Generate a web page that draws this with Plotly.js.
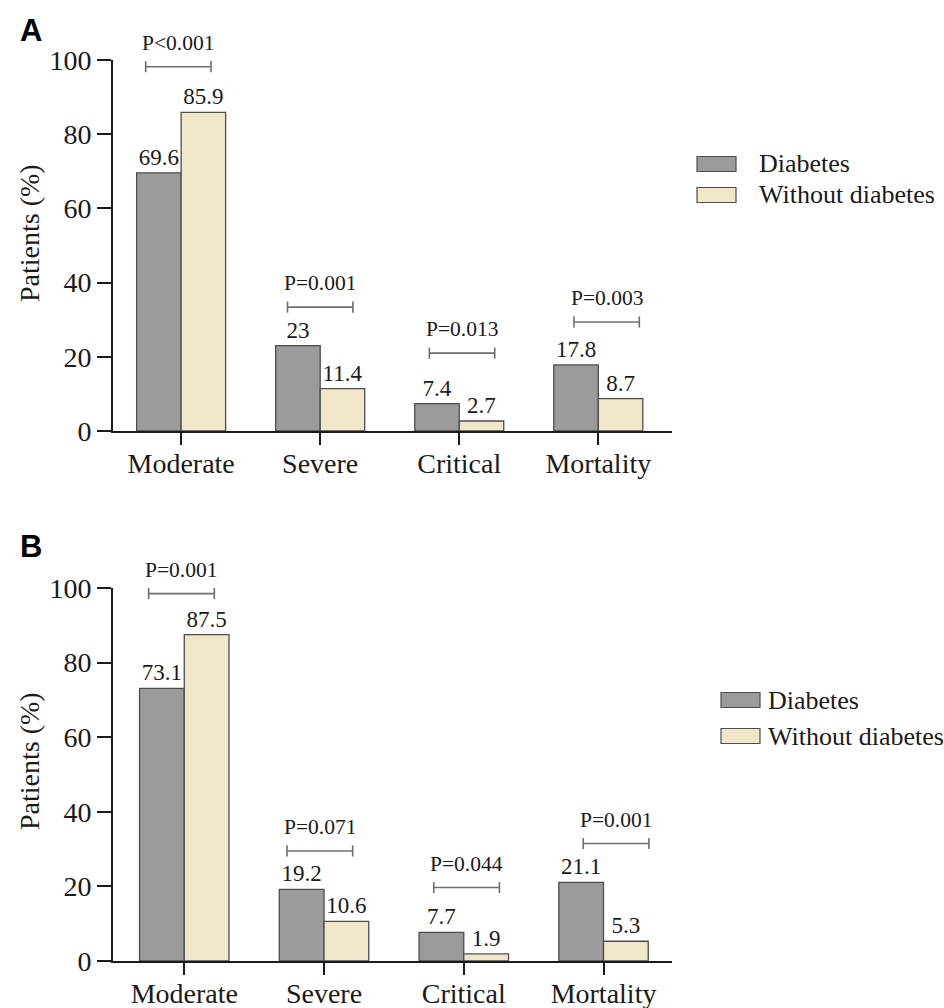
<!DOCTYPE html>
<html>
<head>
<meta charset="utf-8">
<script src="https://cdn.plot.ly/plotly-3.0.1.min.js"></script>
<style>
  html, body { margin: 0; padding: 0; background: #ffffff; }
  #chart { width: 944px; height: 1008px; }
</style>
</head>
<body>
<div id="chart"></div>
<script>
// ---------- data ----------
const categories = ['Moderate', 'Severe', 'Critical', 'Mortality'];
const seriesNames = ['Diabetes', 'Without diabetes'];
const diabetesA = [69.6, 23, 7.4, 17.8];
const withoutA  = [85.9, 11.4, 2.7, 8.7];
const diabetesB = [73.1, 19.2, 7.7, 21.1];
const withoutB  = [87.5, 10.6, 1.9, 5.3];
const pTextA = ['P<0.001', 'P=0.001', 'P=0.013', 'P=0.003'];
const pTextB = ['P=0.001', 'P=0.071', 'P=0.044', 'P=0.001'];
const bracketYA = [98.2, 33.4, 21.0, 29.4];
const bracketYB = [98.5, 29.5, 19.7, 31.5];
const bracketShiftA = [-0.02, 0.0, 0.02, 0.06];
const bracketShiftB = [-0.02, -0.03, 0.02, 0.09];
const yTicks = [0, 20, 40, 60, 80, 100];
const panelLetters = ['A', 'B'];
const yTitle = 'Patients (%)';

// ---------- style ----------
const W = 944, H = 1008;
const serif = 'Liberation Serif, Times New Roman, serif';
const grayFill = '#9a9b9a', tanFill = '#f0e7c8';
const barLine = '#4d4d4d';
const bracketColor = '#6e6e6e';
const txt = '#1a1a1a';
const px = x => x / W;
const py = y => 1 - y / H;
const catIdx = categories.map((_, i) => i);

function barTrace(vals, name, fill, xa, ya, group) {
  return {
    type: 'bar', x: catIdx, y: vals, name: name, xaxis: xa, yaxis: ya,
    offsetgroup: group, showlegend: false,
    marker: { color: fill, line: { color: barLine, width: 1.3 } },
    text: vals.map(v => String(v)), textposition: 'outside', cliponaxis: false,
    constraintext: 'none',
    textfont: { family: serif, size: 23, color: txt },
    hoverinfo: 'skip'
  };
}

function bracketTrace(ys, shifts, xa, ya) {
  const xs = [], yv = [];
  ys.forEach((y, i) => {
    const c = i + shifts[i];
    xs.push(c - 0.235, c + 0.235, null);
    yv.push(y, y, null);
  });
  return {
    type: 'scatter', mode: 'lines+markers', x: xs, y: yv, xaxis: xa, yaxis: ya,
    showlegend: false, cliponaxis: false, hoverinfo: 'skip',
    line: { color: bracketColor, width: 1.6 },
    marker: { symbol: 'line-ns-open', size: 8, line: { color: bracketColor, width: 1.6 } }
  };
}

const traces = [
  barTrace(diabetesA, seriesNames[0], grayFill, 'x', 'y', 'd'),
  barTrace(withoutA, seriesNames[1], tanFill, 'x', 'y', 'w'),
  bracketTrace(bracketYA, bracketShiftA, 'x', 'y'),
  barTrace(diabetesB, seriesNames[0], grayFill, 'x2', 'y2', 'd'),
  barTrace(withoutB, seriesNames[1], tanFill, 'x2', 'y2', 'w'),
  bracketTrace(bracketYB, bracketShiftB, 'x2', 'y2')
];

function xAxis(range, anchor) {
  return {
    domain: [px(113), px(672)], range: range, anchor: anchor,
    tickmode: 'array', tickvals: catIdx, ticktext: categories,
    ticks: 'outside', ticklen: 12, tickwidth: 2, tickcolor: txt,
    ticklabelstandoff: -6,
    showline: true, linecolor: txt, linewidth: 2,
    showgrid: false, zeroline: false, fixedrange: true,
    tickfont: { family: serif, size: 28, color: txt }
  };
}
function yAxis(domain, anchor) {
  return {
    domain: domain, range: [0, 100], anchor: anchor,
    tickmode: 'array', tickvals: yTicks,
    ticks: 'outside', ticklen: 14, tickwidth: 2, tickcolor: txt,
    showline: true, linecolor: txt, linewidth: 2,
    showgrid: false, zeroline: false, fixedrange: true,
    tickfont: { family: serif, size: 28, color: txt }
  };
}

const annotations = [];
function addP(texts, ys, shifts, xa, ya) {
  texts.forEach((t, i) => {
    annotations.push({
      text: t, x: i + shifts[i], y: ys[i], xref: xa, yref: ya,
      xanchor: 'center', yanchor: 'middle', yshift: 24, showarrow: false,
      font: { family: serif, size: 21.5, color: txt }
    });
  });
}
addP(pTextA, bracketYA, bracketShiftA, 'x', 'y');
addP(pTextB, bracketYB, bracketShiftB, 'x2', 'y2');

// panel letters and y titles
[30, 546].forEach((yc, i) => {
  annotations.push({
    text: '<b>' + panelLetters[i] + '</b>', xref: 'paper', yref: 'paper',
    x: px(31), y: py(yc), xanchor: 'center', yanchor: 'middle',
    showarrow: false, font: { family: 'Liberation Sans, Arial, sans-serif', size: 31, color: '#000' }
  });
});
[233, 761].forEach(yc => {
  annotations.push({
    text: yTitle, xref: 'paper', yref: 'paper', x: px(29), y: py(yc),
    xanchor: 'center', yanchor: 'middle', textangle: -90, showarrow: false,
    font: { family: serif, size: 28, color: txt }
  });
});

// manual legends
const shapes = [];
const legends = [
  { sx0: 697, sx1: 736, tx: 757, ys: [164, 195] },
  { sx0: 721, sx1: 760, tx: 766, ys: [700, 736] }
];
const fills = [grayFill, tanFill];
legends.forEach(L => {
  L.ys.forEach((yc, k) => {
    shapes.push({
      type: 'rect', xref: 'paper', yref: 'paper',
      x0: px(L.sx0), x1: px(L.sx1), y0: py(yc - 7.5), y1: py(yc + 7.5),
      fillcolor: fills[k], line: { color: barLine, width: 1.2 }
    });
    annotations.push({
      text: seriesNames[k], xref: 'paper', yref: 'paper', x: px(L.tx), y: py(yc),
      xanchor: 'left', yanchor: 'middle', showarrow: false,
      font: { family: serif, size: 26, color: txt }
    });
  });
});

const layout = {
  width: W, height: H,
  margin: { l: 0, r: 0, t: 0, b: 0 },
  paper_bgcolor: '#ffffff', plot_bgcolor: 'rgba(0,0,0,0)',
  barmode: 'group', bargap: 0.36, bargroupgap: 0,
  showlegend: false,
  xaxis: xAxis([-0.49, 3.53], 'y'),
  yaxis: yAxis([py(431), py(60)], 'x'),
  xaxis2: xAxis([-0.51, 3.49], 'y2'),
  yaxis2: yAxis([py(961), py(588)], 'x2'),
  annotations: annotations,
  shapes: shapes
};

Plotly.newPlot('chart', traces, layout, { displayModeBar: false, staticPlot: true });
</script>
</body>
</html>
